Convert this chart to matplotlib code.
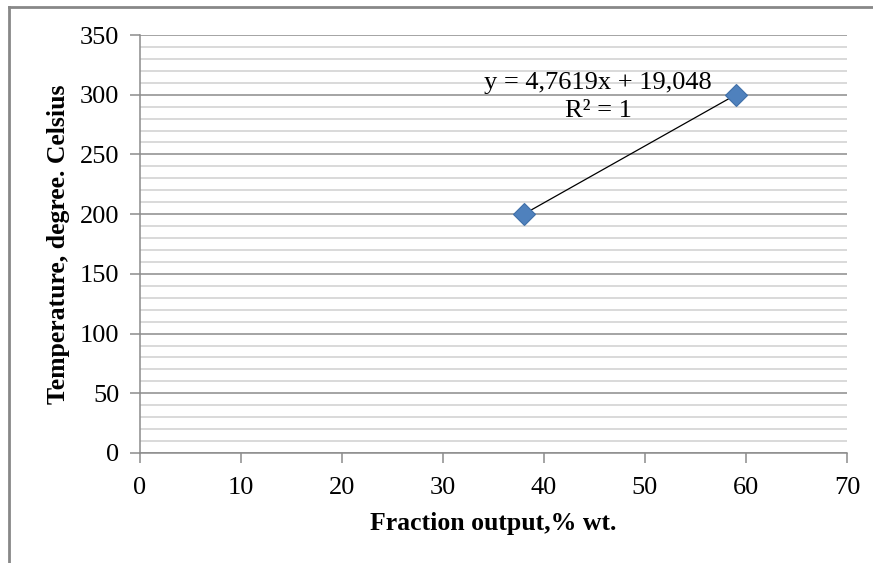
import numpy as np
import matplotlib.pyplot as plt
from matplotlib.lines import Line2D
from matplotlib.ticker import MultipleLocator

# data
fraction = [38, 59]
temperature = [200, 300]
eq_text = "y = 4,7619x + 19,048\nR\u00b2 = 1"

plt.rcParams['font.family'] = ['Liberation Serif', 'DejaVu Serif']

fig = plt.figure(figsize=(8.73, 5.63), dpi=100)
ax = fig.add_axes([0.1604, 0.1954, 0.8098, 0.7424])

# linear trendline over the data range
k, b = np.polyfit(fraction, temperature, 1)
xs = np.array([min(fraction), max(fraction)])
ax.plot(xs, k * xs + b, color='black', lw=0.9, zorder=3)
ax.plot(fraction, temperature, 'D', color='#4f81bd', mec='#3f6fa8',
        mew=0.8, ms=11, zorder=4)

ax.set_xlim(0, 70)
ax.set_ylim(0, 350)
ax.xaxis.set_major_locator(MultipleLocator(10))
ax.yaxis.set_major_locator(MultipleLocator(50))
ax.yaxis.set_minor_locator(MultipleLocator(10))
ax.grid(axis='y', which='major', color='#8c8c8c', lw=1.1)
ax.grid(axis='y', which='minor', color='#cfcfcf', lw=1.1)
ax.set_axisbelow(True)

for s in ['top', 'right']:
    ax.spines[s].set_visible(False)
for s in ['left', 'bottom']:
    ax.spines[s].set_color('#8c8c8c')
    ax.spines[s].set_linewidth(1.1)
ax.tick_params(which='major', direction='out', length=7, width=1.1,
               color='#8c8c8c', labelsize=19, pad=8)
ax.tick_params(axis='y', which='minor', length=0)
ax.tick_params(axis='x', pad=10)

ax.set_xlabel('Fraction output,% wt.', fontsize=18.5, fontweight='bold',
              labelpad=10)
ax.set_ylabel('Temperature, degree. Celsius', fontsize=18.5,
              fontweight='bold', labelpad=7)

ax.text(0.648, 0.852, eq_text, transform=ax.transAxes, ha='center',
        va='center', fontsize=19, linespacing=1.38)

# chart frame
fig.add_artist(Line2D([0.0103, 0.0103], [0.0, 0.9876], color='#888888', lw=2))
fig.add_artist(Line2D([0.0103, 1.0], [0.9876, 0.9876], color='#888888', lw=2))

fig.savefig('out.png', dpi=100)
